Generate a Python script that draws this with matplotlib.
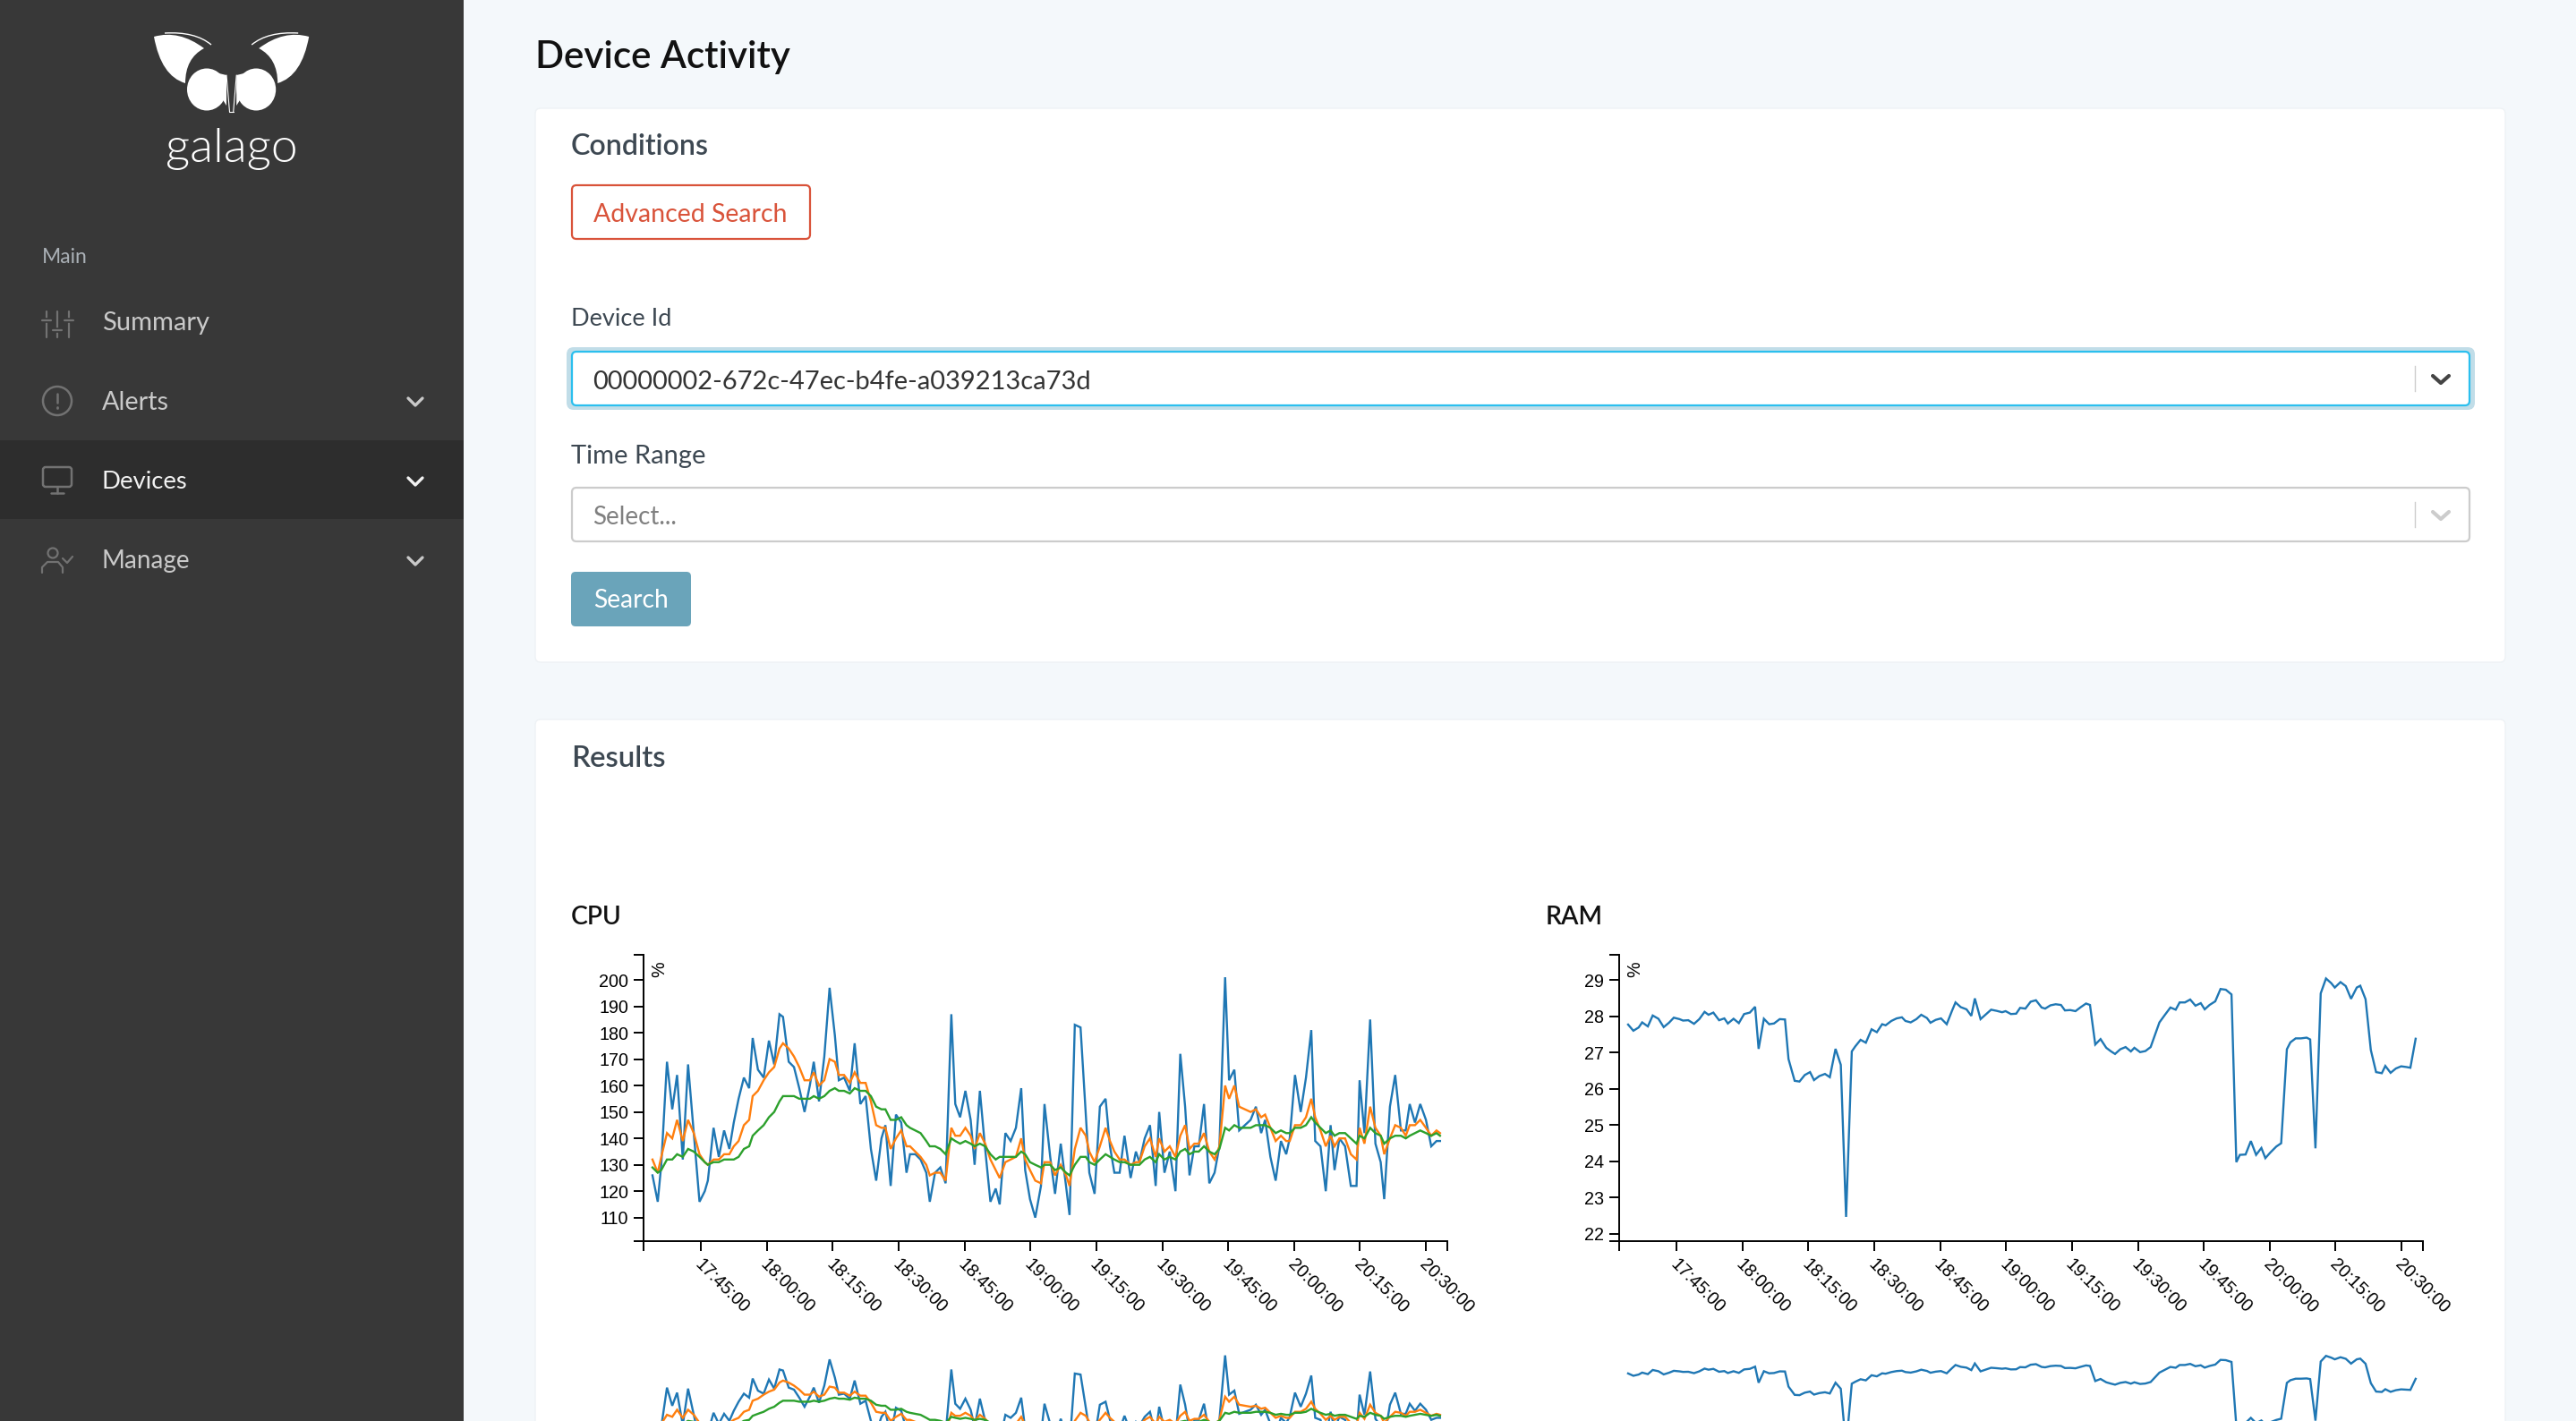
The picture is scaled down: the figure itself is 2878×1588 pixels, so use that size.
import matplotlib
matplotlib.use("Agg")
import matplotlib.pyplot as plt
from matplotlib.patches import Rectangle, FancyBboxPatch, Ellipse, PathPatch, Circle
from matplotlib.path import Path
from matplotlib.transforms import ScaledTranslation

W, H = 2878, 1588

# minutes after 17:00
cpu_minutes = [
    34.0, 35.2, 36.0, 37.3, 38.5, 39.6, 40.9, 42.1, 43.4, 44.7,
    45.9, 46.6, 47.9, 49.1, 50.3, 51.5, 52.5, 53.6, 54.8, 56.0,
    56.8, 58.0, 59.3, 60.5, 61.7, 62.9, 63.7, 65.0, 66.2, 67.4,
    68.6, 69.8, 70.7, 71.9, 73.1, 74.3, 75.5, 76.4, 77.6, 78.9,
    80.0, 81.3, 82.5, 83.7, 84.9, 86.1, 87.0, 88.2, 89.4, 90.6,
    91.8, 92.6, 93.8, 95.0, 96.3, 97.1, 98.3, 99.5, 100.7, 102.0,
    102.9, 104.0, 105.2, 106.4, 107.3, 108.5, 109.7, 110.9, 112.1, 113.0,
    114.3, 115.5, 116.7, 117.9, 118.8, 119.9, 121.1, 122.4, 123.2, 124.5,
    125.6, 126.9, 128.1, 128.9, 130.1, 131.4, 132.6, 133.4, 134.6, 135.8,
    137.1, 138.1, 139.1, 140.3, 141.4, 142.8, 144.0, 144.8, 146.0, 147.2,
    148.5, 149.3, 150.5, 151.7, 153.0, 154.1, 155.2, 156.2, 157.3, 158.3,
    159.5, 160.7, 161.9, 163.0, 164.3, 165.2, 166.4, 167.5, 168.8, 170.1,
    171.3, 172.5, 173.4, 174.6, 175.8, 177.0, 178.2, 179.0, 180.2, 181.5,
    182.7, 183.9, 184.8, 186.0, 187.2, 188.3, 189.2, 190.3, 191.6, 192.9,
    194.2, 194.9, 196.0, 197.3, 198.5, 199.7, 200.5, 201.8, 203.0, 204.3,
    205.4, 206.3, 207.5, 208.7, 210.0, 211.2, 212.4, 213.2,
]
cpu_raw = [
    126, 116, 130, 169, 151, 164, 132, 168, 142, 116,
    120, 124, 144, 133, 143, 136, 146, 155, 163, 159,
    178, 166, 163, 177, 168, 187, 186, 169, 167, 159,
    150, 160, 169, 154, 171, 197, 179, 162, 163, 158,
    176, 153, 156, 136, 124, 140, 145, 122, 149, 146,
    127, 134, 134, 132, 127, 116, 127, 129, 123, 187,
    153, 148, 158, 147, 130, 158, 136, 116, 121, 115,
    142, 139, 144, 159, 128, 117, 110, 122, 153, 133,
    119, 138, 122, 111, 183, 182, 149, 127, 119, 152,
    155, 137, 127, 127, 141, 125, 135, 131, 140, 145,
    122, 150, 127, 135, 120, 172, 152, 126, 137, 137,
    153, 123, 127, 137, 201, 162, 166, 143, 145, 147,
    152, 142, 147, 133, 124, 139, 134, 140, 164, 150,
    163, 181, 139, 137, 120, 145, 128, 140, 137, 122,
    122, 162, 142, 185, 138, 131, 117, 152, 164, 143,
    143, 153, 146, 153, 147, 137, 139, 139,
]
cpu_avg_short = [
    132, 127, 133, 142, 140, 147, 139, 147, 142, 134,
    131, 130, 132, 132, 134, 134, 137, 139, 145, 147,
    156, 158, 162, 165, 167, 174, 176, 174, 171, 167,
    162, 162, 165, 160, 162, 170, 169, 164, 164, 161,
    165, 161, 161, 154, 145, 144, 144, 136, 140, 143,
    137, 137, 135, 133, 130, 126, 127, 127, 124, 144,
    141, 141, 144, 141, 136, 142, 138, 132, 128, 125,
    131, 132, 133, 140, 132, 128, 124, 123, 131, 131,
    126, 130, 126, 122, 136, 144, 141, 135, 131, 137,
    144, 139, 135, 132, 132, 130, 131, 131, 137, 140,
    133, 140, 135, 137, 133, 141, 145, 136, 138, 138,
    142, 135, 132, 137, 160, 155, 160, 152, 151, 150,
    151, 148, 149, 144, 139, 141, 139, 139, 145, 145,
    148, 155, 148, 143, 137, 141, 137, 140, 140, 134,
    132, 144, 138, 152, 144, 141, 134, 140, 145, 144,
    141, 145, 145, 147, 144, 141, 143, 142,
]
cpu_avg_long = [
    129, 127, 128, 132, 132, 134, 133, 136, 135, 133,
    131, 130, 131, 131, 132, 132, 132, 133, 136, 137,
    141, 143, 145, 148, 150, 154, 156, 156, 156, 155,
    155, 155, 156, 155, 156, 158, 159, 158, 158, 157,
    159, 158, 158, 156, 152, 151, 151, 147, 147, 148,
    145, 144, 143, 142, 139, 137, 137, 136, 134, 140,
    139, 138, 139, 138, 137, 138, 137, 134, 132, 133,
    133, 133, 133, 135, 134, 131, 130, 129, 130, 130,
    128, 129, 127, 126, 130, 133, 133, 131, 130, 132,
    134, 133, 132, 131, 131, 130, 130, 130, 132, 133,
    131, 134, 132, 133, 132, 135, 136, 134, 135, 135,
    137, 135, 134, 136, 144, 143, 145, 144, 144, 144,
    145, 145, 145, 144, 142, 143, 142, 142, 144, 144,
    145, 148, 146, 144, 142, 143, 141, 142, 142, 140,
    138, 141, 140, 144, 142, 141, 138, 140, 141, 141,
    140, 141, 142, 143, 142, 141, 142, 141,
]

ram_minutes = [
    34.0, 35.2, 36.4, 37.2, 38.5, 39.6, 40.9, 42.1, 43.3, 44.4,
    45.7, 46.5, 47.7, 49.0, 50.2, 51.4, 52.3, 53.4, 54.7, 55.9,
    56.7, 58.0, 59.2, 60.4, 61.7, 62.9, 63.7, 64.9, 66.1, 67.2,
    68.5, 69.7, 70.5, 71.9, 73.0, 74.2, 75.4, 76.3, 77.5, 78.8,
    79.9, 81.2, 82.4, 83.6, 84.9, 85.7, 86.9, 88.1, 89.4, 90.6,
    91.8, 92.6, 93.9, 95.1, 96.3, 97.1, 98.3, 99.6, 100.7, 102.0,
    102.8, 104.0, 105.2, 106.5, 107.7, 108.5, 109.7, 111.0, 112.1, 112.9,
    114.2, 115.4, 116.6, 117.8, 119.1, 119.9, 121.1, 122.3, 123.2,
    124.4, 125.6, 126.8, 128.1, 128.9, 130.1, 131.3, 132.5, 133.4, 134.6,
    135.8, 137.0, 138.2, 139.1, 140.3, 141.5, 142.8, 143.9, 144.8, 146.0,
    147.2, 148.4, 149.2, 150.5, 151.7, 152.9, 154.1, 154.9, 156.1, 157.4,
    158.6, 159.5, 160.7, 161.9, 163.1, 164.3, 165.2, 166.3, 167.6, 168.8,
    170.0, 171.3, 172.4, 173.2, 174.5, 175.7, 176.9, 178.1, 179.0, 180.1,
    181.5, 182.6, 183.9, 184.7, 185.9, 187.1, 188.4, 189.2, 190.4, 191.6,
    192.8, 194.0, 194.8, 196.1, 197.3, 198.5, 199.8, 200.6, 201.8, 203.0,
    204.2, 205.5, 206.3, 207.5, 208.7, 209.9, 211.1, 212.0, 213.2,
]
ram_used = [
    27.77, 27.60, 27.69, 27.83, 27.72, 28.02, 27.93, 27.70, 27.82, 27.96,
    27.92, 27.88, 27.89, 27.79, 27.92, 28.12, 28.04, 28.10, 27.89, 27.94,
    27.80, 27.93, 27.81, 28.06, 28.10, 28.26, 27.10, 27.93, 27.78, 27.80,
    27.92, 27.91, 26.82, 26.22, 26.20, 26.38, 26.46, 26.24, 26.35, 26.41,
    26.32, 27.10, 26.66, 22.47, 27.03, 27.17, 27.35, 27.27, 27.64, 27.56,
    27.78, 27.75, 27.87, 27.94, 27.97, 27.87, 27.83, 27.92, 28.04, 27.95,
    27.82, 27.90, 27.94, 27.78, 28.15, 28.38, 28.25, 28.19, 28.01, 28.49,
    27.92, 28.05, 28.18, 28.15, 28.11, 28.14, 28.06, 28.07, 28.23,
    28.21, 28.40, 28.44, 28.24, 28.21, 28.30, 28.33, 28.31, 28.16, 28.17,
    28.14, 28.25, 28.35, 28.31, 27.22, 27.37, 27.13, 27.03, 26.96, 27.09,
    27.15, 27.03, 27.13, 27.01, 27.04, 27.15, 27.56, 27.83, 28.03, 28.24,
    28.18, 28.38, 28.38, 28.46, 28.29, 28.36, 28.19, 28.31, 28.41, 28.75,
    28.73, 28.60, 23.98, 24.18, 24.19, 24.56, 24.18, 24.37, 24.09, 24.24,
    24.41, 24.50, 27.09, 27.28, 27.39, 27.39, 27.41, 27.36, 24.36, 28.63,
    29.04, 28.91, 28.79, 28.94, 28.83, 28.48, 28.79, 28.84, 28.47, 27.07,
    26.46, 26.43, 26.63, 26.44, 26.56, 26.62, 26.60, 26.58, 27.38,
]

tick_minutes = [45, 60, 75, 90, 105, 120, 135, 150, 165, 180, 195, 210]
tick_labels = ["17:45:00", "18:00:00", "18:15:00", "18:30:00", "18:45:00", "19:00:00",
               "19:15:00", "19:30:00", "19:45:00", "20:00:00", "20:15:00", "20:30:00"]
cpu_ticks = [110, 120, 130, 140, 150, 160, 170, 180, 190, 200]
ram_ticks = [22, 23, 24, 25, 26, 27, 28, 29]

time_range = (31.97, 214.86)
cpu_range = (101.2, 209.6)
ram_range = (21.81, 29.70)

BLUE, ORANGE, GREEN = "#1f77b4", "#ff7f0e", "#2ca02c"

fig = plt.figure(figsize=(W / 100, H / 100), dpi=100, facecolor="#f4f8fb")
page = fig.add_axes([0, 0, 1, 1])
page.set_xlim(0, W)
page.set_ylim(H, 0)
page.axis("off")
renderer = fig.canvas.get_renderer()


def ui_text(x, y, s, width, color, weight="normal", family="Lato"):
    # text placed in pixels, font size scaled so it takes the measured width
    t = page.text(x, y + 3, s, fontsize=20, color=color, va="center", ha="left",
                  fontweight=weight, family=family)
    t.set_fontsize(20 * width / t.get_window_extent(renderer).width)
    return t


def box(x0, y0, x1, y1, face, edge="none", lw=0, r=6):
    page.add_patch(FancyBboxPatch((x0 + r, y0 + r), x1 - x0 - 2 * r, y1 - y0 - 2 * r,
                                  boxstyle="round,pad=%d,rounding_size=%d" % (r, r),
                                  fc=face, ec=edge, lw=lw))


def stroke(xs, ys, color, lw=2.0):
    page.plot(xs, ys, color=color, lw=lw, solid_capstyle="round", solid_joinstyle="round")


# sidebar
page.add_patch(Rectangle((0, 0), 518, H, fc="#383838", ec="none"))
page.add_patch(Rectangle((0, 492), 518, 88, fc="#2d2d2d", ec="none"))

# logo, mirrored about the middle of the sidebar
mid = 258.6
for side in (-1, 1):
    def mx(v):
        return mid + side * (mid - v)
    ear = Path([(mx(172), 41), (mx(200), 33), (mx(228), 54), (mx(207), 65), (mx(207), 93),
                (mx(180), 85), (mx(172), 41)],
               [Path.MOVETO, Path.CURVE3, Path.CURVE3, Path.CURVE3, Path.CURVE3, Path.CURVE3, Path.CURVE3])
    page.add_patch(PathPatch(ear, fc="white", ec="none"))
    arc = Path([(mx(184), 37), (mx(218), 35), (mx(236), 50)], [Path.MOVETO, Path.CURVE3, Path.CURVE3])
    page.add_patch(PathPatch(arc, fc="none", ec="white", lw=1))
    page.add_patch(Ellipse((mx(231), 100), 44, 47, fc="white", ec="none"))
    page.add_patch(PathPatch(Path([(mx(228), 78), (mx(253), 84), (mx(253), 118), (mx(228), 122)],
                                  [Path.MOVETO, Path.LINETO, Path.LINETO, Path.CLOSEPOLY]),
                             fc="white", ec="none"))
    stroke([mx(253), mx(256.5)], [84, 125], "white", 0.8)
stroke([mid - 2.5, mid + 2.5], [125, 125], "white", 0.8)
ui_text(185, 163, "galago", 148, "white", weight=300)

ui_text(47, 285, "Main", 51, "#aab0b6")
ui_text(114, 358, "Summary", 120, "#c9c9c9")
ui_text(114, 447, "Alerts", 75, "#c9c9c9")
ui_text(114, 536, "Devices", 96, "#f2f2f2")
ui_text(114, 624, "Manage", 99, "#c9c9c9")
for cy, col in ((449, "#c9c9c9"), (538, "#f2f2f2"), (627, "#c9c9c9")):
    stroke([456, 464, 472], [cy - 4, cy + 4, cy - 4], col, 2.4)

ICON = "#727272"
# sliders
for sx, knob in ((52, 358), (64, 369), (77, 358)):
    stroke([sx, sx], [348, 377], ICON, 1.6)
    stroke([sx - 5, sx + 5], [knob, knob], "#383838", 4)
    stroke([sx - 5, sx + 5], [knob, knob], ICON, 1.6)
# alert circle
page.add_patch(Ellipse((64, 448), 32, 32, fc="none", ec=ICON, lw=1.8))
stroke([64, 64], [440, 450], ICON, 1.8)
stroke([64, 64], [455, 455.5], ICON, 2)
# monitor
box(48, 522, 80, 544, "none", ICON, 1.8, r=3)
stroke([64, 64], [544, 551], ICON, 1.8)
stroke([57, 71], [551, 551], ICON, 1.8)
# user with tick
page.add_patch(Circle((59, 618), 5.5, fc="none", ec=ICON, lw=1.6))
stroke([47, 47, 53, 65, 70, 70], [640, 634, 628, 628, 634, 640], ICON, 1.6)
stroke([70, 75, 81], [624, 629, 622], ICON, 1.6)

# page cards
ui_text(598, 61, "Device Activity", 285, "#111111", weight=600)
box(598, 121, 2799, 740, "white", "#eef2f5", 1)
box(598, 804, 2799, 1700, "white", "#eef2f5", 1)

ui_text(638, 161, "Conditions", 154, "#3d4852", weight=600)
box(639, 207, 905, 267, "white", "#d9533a", 1.6, r=5)
ui_text(663, 237, "Advanced Search", 217, "#d9533a")
ui_text(638, 354, "Device Id", 113, "#3d4852")
box(633, 388, 2765, 458, "#c1dde8", r=8)
box(639, 393, 2759, 453, "white", "#2bbfee", 1.6, r=5)
ui_text(662, 424, "00000002-672c-47ec-b4fe-a039213ca73d", 557, "#333333")
page.plot([2698, 2698], [409, 437], color="#cccccc", lw=1)
stroke([2718, 2727, 2736], [420, 428, 420], "#444444", 3)
ui_text(638, 507, "Time Range", 151, "#3d4852")
box(639, 545, 2759, 605, "white", "#cccccc", 1.6, r=5)
ui_text(662, 575, "Select...", 94, "#808080")
page.plot([2698, 2698], [561, 589], color="#cccccc", lw=1)
stroke([2718, 2727, 2736], [572, 580, 572], "#cccccc", 3)
box(638, 639, 772, 700, "#6aa4ba", r=5)
ui_text(663, 668, "Search", 84, "white")

ui_text(638, 845, "Results", 106, "#3d4852", weight=600)
ui_text(638, 1022, "CPU", 57, "#111111", weight=600)
ui_text(1727, 1022, "RAM", 64, "#111111", weight=600)


def axes_px(x0, y0, x1, y1):
    ax = fig.add_axes([x0 / W, 1 - y1 / H, (x1 - x0) / W, (y1 - y0) / H])
    ax.patch.set_alpha(0)
    ax.set_xlim(*time_range)
    return ax


def detail_chart(x0, values, colors, yrange, yticks):
    ax = axes_px(x0, 1066.7, x0 + 898, 1386.7)
    ax.set_ylim(*yrange)
    for (minutes, series), col in zip(values, colors):
        ax.plot(minutes, series, color=col, lw=1.7, solid_joinstyle="miter", clip_on=False)
    for name in ("top", "right"):
        ax.spines[name].set_visible(False)
    for name in ("left", "bottom"):
        ax.spines[name].set_linewidth(1.4)
    ax.set_xticks(tick_minutes)
    ax.set_xticklabels(tick_labels, rotation=-45, ha="left", va="center", rotation_mode="anchor",
                       family="Liberation Sans", fontsize=14.2)
    ax.set_yticks(yticks)
    ax.set_yticklabels([str(v) for v in yticks], family="Liberation Sans", fontsize=14.2)
    ax.set_xticks(time_range, minor=True)
    ax.set_yticks(yrange, minor=True)
    ax.tick_params(which="both", length=8, width=1.4, color="black")
    ax.tick_params(axis="y", which="major", pad=4)
    ax.tick_params(axis="x", which="major", pad=9)
    shift = ScaledTranslation(-4 / 100, 0, fig.dpi_scale_trans)
    for lab in ax.get_xticklabels():
        lab.set_transform(lab.get_transform() + shift)
    page.text(x0 + 18, 1083, "%", rotation=90, ha="center", va="center",
              family="Liberation Sans", fontsize=14.2, color="black")
    return ax


def context_chart(x0, values, colors, yrange):
    ax = axes_px(x0, 1505, x0 + 898, 1627)
    ax.set_ylim(*yrange)
    for (minutes, series), col in zip(values, colors):
        ax.plot(minutes, series, color=col, lw=1.7, solid_joinstyle="miter")
    ax.axis("off")
    return ax


cpu_lines = [(cpu_minutes, cpu_raw), (cpu_minutes, cpu_avg_short), (cpu_minutes, cpu_avg_long)]
ram_lines = [(ram_minutes, ram_used)]
cpu_colors = [BLUE, ORANGE, GREEN]

detail_chart(719, cpu_lines, cpu_colors, cpu_range, cpu_ticks)
detail_chart(1809, ram_lines, [BLUE], ram_range, ram_ticks)
context_chart(719, cpu_lines, cpu_colors, cpu_range)
context_chart(1809, ram_lines, [BLUE], ram_range)

fig.savefig("out.png", dpi=100, facecolor=fig.get_facecolor())
